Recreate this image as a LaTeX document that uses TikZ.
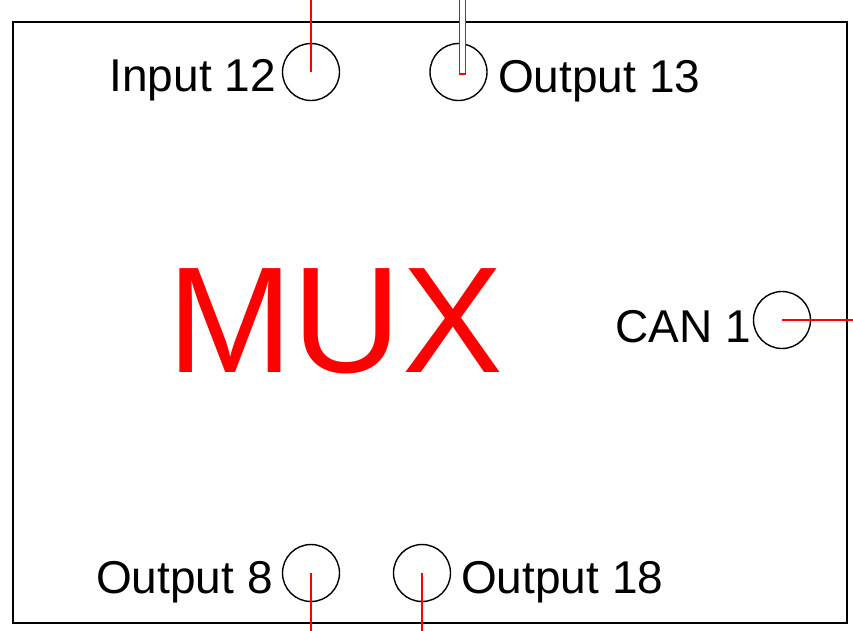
\documentclass[tikz,border=0pt]{standalone}
\usepackage{fontspec}
\setmainfont{Liberation Sans}
\begin{document}
\begin{tikzpicture}[x=1pt,y=-1pt,
  port/.style={draw=black,line width=1.4pt,circle,minimum size=57pt,inner sep=0pt},
  lbl/.style={inner sep=0pt,font=\fontsize{46pt}{55pt}\selectfont},
  wire/.style={draw=red,line width=1.2pt}]
\useasboundingbox (0,0) rectangle (853,630);
\begin{scope}
\clip (0,0) rectangle (853,630);
\node[draw=black,line width=1.6pt,minimum width=834pt,minimum height=601pt,inner sep=0pt] (box) at (430,322.5) {};
\node[port] (p12) at (311,72) {};
\node[port] (p13) at (458.5,72) {};
\node[port] (can) at (782,320) {};
\node[port] (p8) at (311,573) {};
\node[port] (p18) at (422,573) {};
\coordinate (t12) at (311,-2);
\coordinate (rcan) at (855,320);
\coordinate (b8) at (311,632);
\coordinate (b18) at (422,632);
\draw[wire] (p12.center) -- (t12);
\draw[wire] (can.center) -- (rcan);
\draw[wire] (p8.center) -- (b8);
\draw[wire] (p18.center) -- (b18);
\draw[draw=red,fill=white,line width=1.5pt] (459.3,-3) rectangle (465.7,74) coordinate (r13);
\end{scope}
\node[lbl,anchor=base east] (l12) at (276,91.7) {Input 12};
\node[lbl,anchor=base west] (l13) at (498,92) {Output 13};
\node[lbl,anchor=base west] (lcan) at (615,342) {CAN 1};
\node[lbl,anchor=base west] (l8) at (96,593) {Output 8};
\node[lbl,anchor=base west] (l18) at (461,593) {Output 18};
\node[inner sep=0pt,anchor=base west,text=red,font=\fontsize{151pt}{172pt}\selectfont] (mux) at (167,372) {MUX};
\end{tikzpicture}
\end{document}
